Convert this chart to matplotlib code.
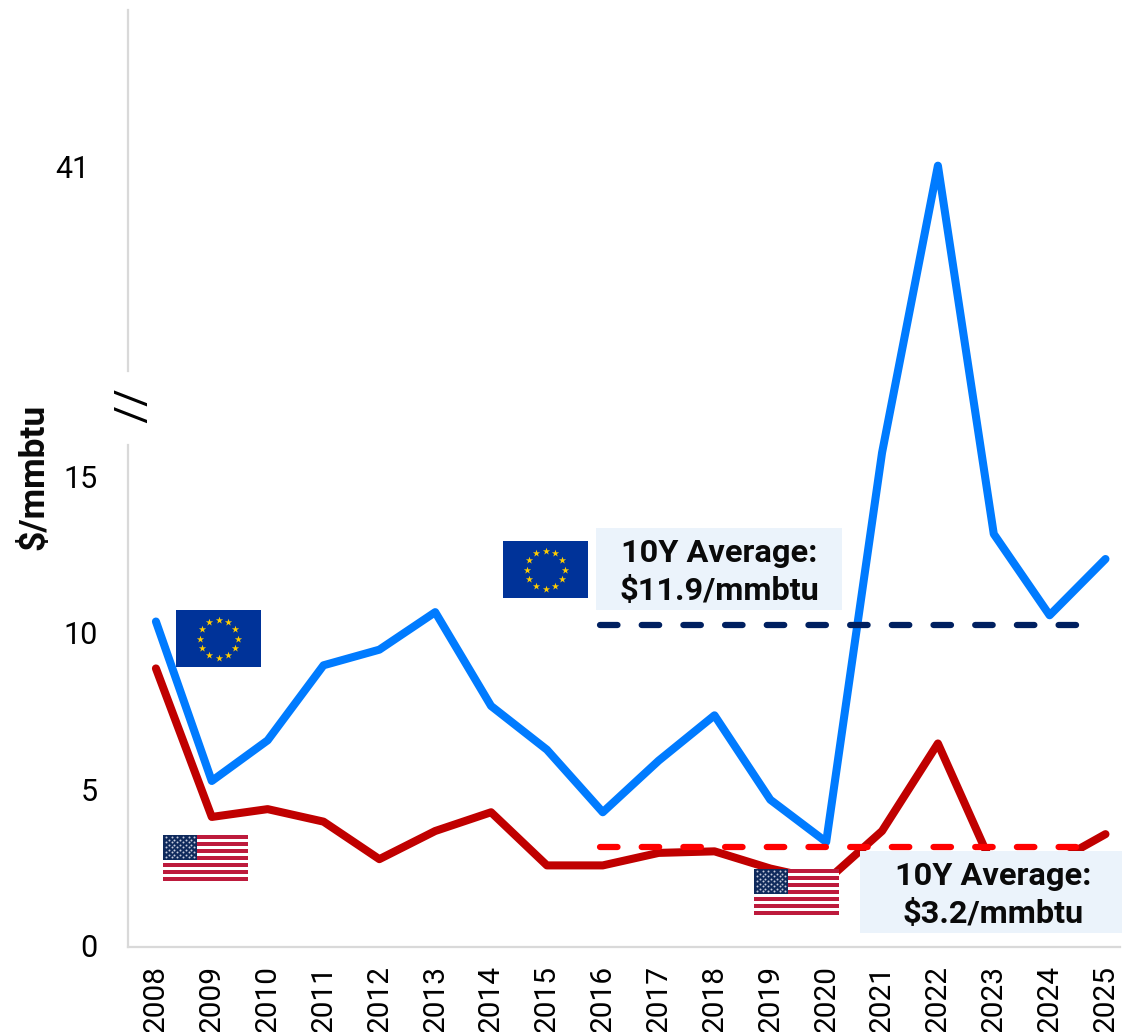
import numpy as np
import matplotlib
matplotlib.use('Agg')
import matplotlib.pyplot as plt
from matplotlib.patches import Rectangle
from matplotlib.transforms import ScaledTranslation

plt.rcParams['font.family'] = ['Roboto', 'DejaVu Sans']

# DATA

anos = list(range(2008, 2026))
europa = [10.4, 5.3, 6.6, 9.0, 9.5, 10.7, 7.7, 6.3, 4.3, 5.95, 7.4, 4.7, 3.35, 15.8, 41.0, 13.2, 10.6, 12.4]
eua = [8.9, 4.15, 4.4, 4.0, 2.8, 3.7, 4.3, 2.6, 2.6, 3.0, 3.05, 2.5, 2.1, 3.7, 6.5, 2.5, 2.6, 3.6]
media_anos = [2015.95, 2024.68]
media_europa = [10.3, 10.3]
media_eua = [3.2, 3.2]
yticks = [0, 5, 10, 15]
texto_europa = '10Y Average:\n$11.9/mmbtu'
texto_eua = '10Y Average:\n$3.2/mmbtu'

W, H = 1122, 1032
AZUL = '#007BFF'
VERMELHO = '#C00000'
CINZA = '#D9D9D9'
CAIXA = '#EBF3FB'

# EIXO Y QUEBRADO: acima de 16 a escala fica comprimida
CORTE = 16.0
K = 8.98 / 25


def comprime(v):
    v = np.asarray(v, dtype=float)
    return np.where(v <= CORTE, v, CORTE + (v - CORTE) * K)


def expande(v):
    v = np.asarray(v, dtype=float)
    return np.where(v <= CORTE, v, CORTE + (v - CORTE) / K)


fig = plt.figure(figsize=(W / 100, H / 100), dpi=100)
ax = fig.add_axes([128 / W, 1 - 946.7 / H, (1120 - 128) / W, (946.7 - 10) / H])
ax.set_yscale('function', functions=(comprime, expande))
ax.set_xlim(2007.5, 2025.26)
ax.set_ylim(0, 54.86)

ax.plot(anos, europa, color=AZUL, lw=5.8, solid_capstyle='round', solid_joinstyle='round', zorder=3)
ax.plot(anos, eua, color=VERMELHO, lw=5.8, solid_capstyle='round', solid_joinstyle='round', zorder=3)
ax.plot(media_anos, media_europa, color='#002060', lw=4.5, linestyle=(0, (2.8, 3.87)),
        dash_capstyle='round', zorder=4)
ax.plot(media_anos, media_eua, color='#FF0000', lw=4.5, linestyle=(0, (2.8, 3.87)),
        dash_capstyle='round', zorder=4)

# EIXOS

for lado in ['top', 'right']:
    ax.spines[lado].set_visible(False)
ax.spines['left'].set_color(CINZA)
ax.spines['left'].set_linewidth(1.6)
ax.spines['left'].set_bounds(0, 16.17)
ax.spines['bottom'].set_color(CINZA)
ax.spines['bottom'].set_linewidth(1.6)
ax.plot([2007.5, 2007.5], [22.74, 54.86], color=CINZA, lw=1.6, clip_on=False, zorder=2)

ax.set_xticks(anos)
ax.set_xticklabels(anos, rotation=90, fontsize=21.5)
ax.set_yticks(yticks)
ax.set_yticklabels(yticks, fontsize=22)
ax.tick_params(axis='x', length=0, pad=13)
ax.tick_params(axis='y', length=0, pad=21.6)
ax.minorticks_off()
for rotulo in ax.get_yticklabels():
    rotulo.set_transform(rotulo.get_transform() + ScaledTranslation(0, 1.2 / 100, fig.dpi_scale_trans))

# CAMADA POR CIMA: caixas, textos e bandeiras em pixels

topo = fig.add_axes([0, 0, 1, 1])
topo.set_xlim(0, W)
topo.set_ylim(H, 0)
topo.axis('off')
topo.patch.set_alpha(0)

topo.add_patch(Rectangle((596, 528), 246, 82, color=CAIXA, lw=0))
topo.add_patch(Rectangle((860, 851), 262, 82, color=CAIXA, lw=0))
topo.text(719, 572, texto_europa, ha='center', va='center', fontsize=23.4, fontweight='bold',
          linespacing=1.31, parse_math=False, color='#0A0A0A')
topo.text(993, 895, texto_eua, ha='center', va='center', fontsize=23.4, fontweight='bold',
          linespacing=1.31, parse_math=False, color='#0A0A0A')
topo.text(33.5, 477, '$/mmbtu', rotation=90, ha='center', va='center', fontsize=25.5,
          fontweight='bold', parse_math=False, color='#0A0A0A')
topo.text(89, 169, '41', ha='right', va='center', fontsize=22)
topo.text(127, 407, '//', rotation=270, ha='center', va='center', fontsize=31, color='black')


def bandeira_ue(x0, y0):
    a = topo.inset_axes([x0, y0, 85, 57], transform=topo.transData)
    a.set_xlim(0, 85)
    a.set_ylim(57, 0)
    a.axis('off')
    a.add_patch(Rectangle((0, 0), 85, 57, color='#003399', lw=0))
    ang = np.deg2rad(np.arange(0, 360, 30))
    a.scatter(42.5 + 19 * np.cos(ang), 28.5 + 19 * np.sin(ang), marker='*', s=30, color='#FFCC00', lw=0)


def bandeira_eua(x0, y0):
    a = topo.inset_axes([x0, y0, 85, 46], transform=topo.transData)
    a.set_xlim(0, 85)
    a.set_ylim(46, 0)
    a.axis('off')
    faixa = 46 / 13
    for i in range(13):
        cor = '#BD1A3C' if i % 2 == 0 else 'white'
        a.add_patch(Rectangle((0, i * faixa), 85, faixa, color=cor, lw=0))
    a.add_patch(Rectangle((0, 0), 34, 7 * faixa, color='#0F2A5C', lw=0))
    for j in range(9):
        n = 6 if j % 2 == 0 else 5
        xs = (np.arange(n) + (0.5 if j % 2 == 0 else 1.0)) * 34 / 6
        a.scatter(xs, np.full(n, (j + 1) * 7 * faixa / 10), s=2.0, color='#C8CEDF', lw=0)


bandeira_ue(176, 610)
bandeira_ue(503, 541)
bandeira_eua(163, 835)
bandeira_eua(754, 869)

fig.savefig('out.png', dpi=100)
